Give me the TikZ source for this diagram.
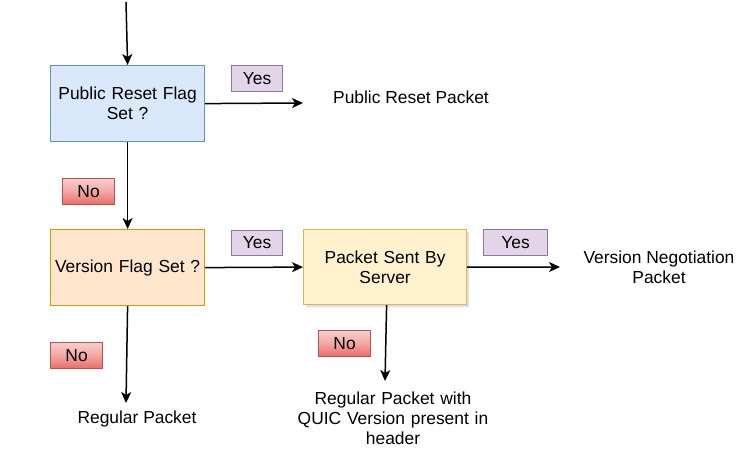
\documentclass[tikz,border=0pt]{standalone}
\usepackage{fontspec}
\setmainfont{Liberation Sans}
\usetikzlibrary{arrows.meta,shadows}
\definecolor{bluefill}{HTML}{DAE8FC}\definecolor{bluedraw}{HTML}{6C8EBF}
\definecolor{orfill}{HTML}{FFE6CC}\definecolor{ordraw}{HTML}{D79B00}
\definecolor{yefill}{HTML}{FFF2CC}\definecolor{yedraw}{HTML}{D6B656}
\definecolor{pufill}{HTML}{E1D5E7}\definecolor{pudraw}{HTML}{9673A6}
\definecolor{refill}{HTML}{F8CECC}\definecolor{redraw}{HTML}{B85450}\definecolor{regrad}{HTML}{EA6B66}
\begin{document}
\begin{tikzpicture}[x=1pt,y=-1pt,
  every node/.style={font=\fontsize{17.4}{20}\selectfont, align=center},
  box/.style={draw, line width=1.2pt, minimum width=153pt, minimum height=76pt, inner sep=2pt, text width=150pt, anchor=north west},
  yeslbl/.style={draw=pudraw, fill=pufill, line width=1.2pt, minimum height=26pt, inner sep=0pt, anchor=north west},
  nolbl/.style={draw=redraw, top color=refill, bottom color=regrad, middle color=refill!60!regrad, line width=1.2pt, minimum width=52pt, minimum height=26pt, inner sep=0pt, anchor=north west},
  plain/.style={inner sep=0pt},
  arr/.style={line width=1.5pt, -{Stealth[length=11pt,width=10pt,inset=3pt]}}]
\useasboundingbox (0,0) rectangle (748,465);
\coordinate (start) at (126,2);
\node[box, draw=bluedraw, fill=bluefill] (b1) at (50,65) {Public Reset Flag\\Set ?};
\node[box, draw=ordraw, fill=orfill] (b2) at (50,229) {Version Flag Set ?};
\node[box, draw=yedraw, fill=yefill, minimum width=163pt, text width=155pt, minimum height=75pt,
  drop shadow={shadow xshift=2pt, shadow yshift=-2pt, fill=black!25, opacity=0.5}] (b3) at (303,229) {Packet Sent By\\Server};
\node[yeslbl, minimum width=51pt] (y1) at (231,65) {Yes};
\node[yeslbl, minimum width=51pt, minimum height=25pt] (y2) at (231,230) {Yes};
\node[yeslbl, minimum width=64pt] (y3) at (483,229) {Yes};
\node[nolbl] (n1) at (62,178) {No};
\node[nolbl] (n2) at (50,342) {No};
\node[nolbl] (n3) at (318,330) {No};
\node[plain] (t1) at (411,97) {Public Reset Packet};
\node[plain] (t2) at (659,267) {Version Negotiation\\Packet};
\node[plain] (t3) at (137,419) {Regular Packet};
\node[plain, text width=220pt] (t4) at (393,418) {Regular Packet with\\QUIC Version present in\\header};
\coordinate (e1) at (303,103);
\coordinate (e2) at (560,267);
\coordinate (e3) at (126,403);
\coordinate (e4) at (385,381);
\draw[arr] (start) -- (b1.north);
\draw[arr] (b1.east) -- (e1);
\draw[arr] (b1.south) -- (b2.north);
\draw[arr] (b2.east) -- (b3.west);
\draw[arr] (b3.east) -- (e2);
\draw[arr] (b2.south) -- (e3);
\draw[arr] ([xshift=1.5pt]b3.south) -- (e4);
\end{tikzpicture}
\end{document}
